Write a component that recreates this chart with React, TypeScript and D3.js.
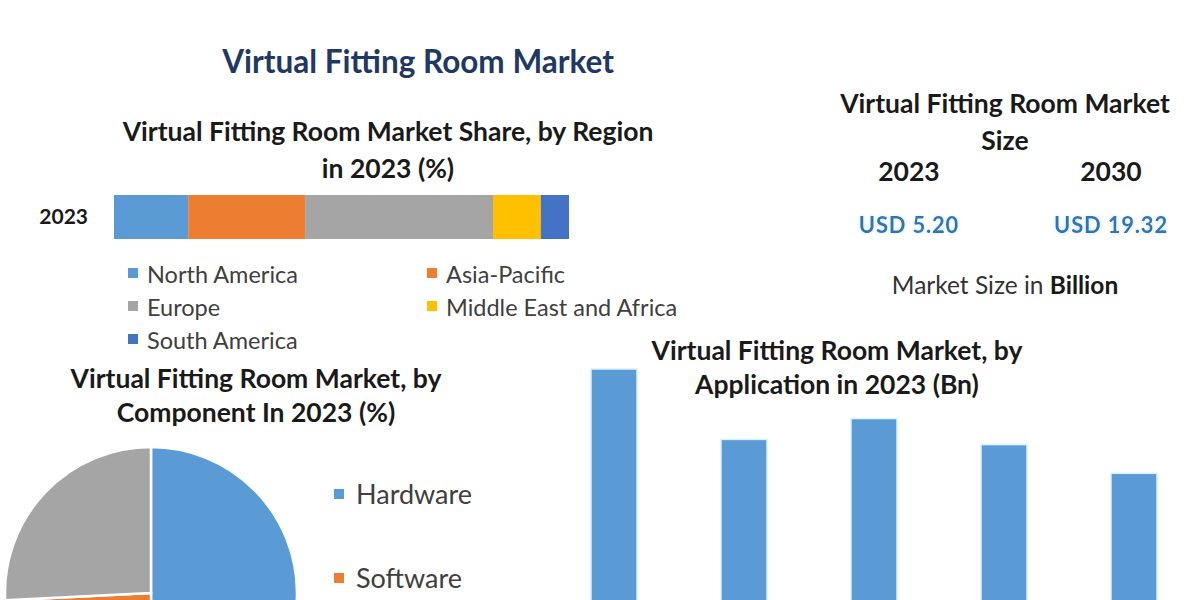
import { useEffect, useRef } from 'react'
import * as d3 from 'd3'

const REGIONS = ['North America', 'Asia-Pacific', 'Europe', 'Middle East and Africa', 'South America']
const REGION_SHARE = [16.3, 25.7, 41.3, 10.5, 6.2]
const REGION_COLORS = ['#5b9bd5', '#ed7d31', '#a5a5a5', '#ffc000', '#4472c4']

const COMPONENTS = ['Hardware', 'Software', 'Services']
const COMPONENT_SHARE = [50, 24.2, 25.8]
const COMPONENT_COLORS = ['#5b9bd5', '#ed7d31', '#a5a5a5']

// category labels sit below the visible crop in the reference
const APPLICATIONS = ['Apparel', 'Beauty & Cosmetics', 'Eyewear', 'Footwear', 'Jewelry & Watches']
const APPLICATION_VALUES = [1.27, 1.0, 1.08, 0.98, 0.87]

const SIZE_YEARS = ['2023', '2030']
const SIZE_VALUES = ['USD 5.20', 'USD 19.32']

const FONT = 'Lato, "Open Sans", sans-serif'

export default function App() {
  const svgRef = useRef<SVGSVGElement>(null)

  useEffect(() => {
    document.body.style.margin = '0'
    const svgEl = svgRef.current
    if (!svgEl) return
    const W = 1200
    const H = 600
    const svg = d3.select(svgEl).attr('viewBox', `0 0 ${W} ${H}`)
    svg.selectAll('*').remove()
    svg.append('rect').attr('width', W).attr('height', H).attr('fill', '#fff')

    const defs = svg.append('defs')
    const glow = defs.append('filter').attr('id', 'glow').attr('x', '-20%').attr('y', '-50%').attr('width', '140%').attr('height', '200%')
    glow.append('feGaussianBlur').attr('in', 'SourceAlpha').attr('stdDeviation', 2).attr('result', 'b')
    glow.append('feFlood').attr('flood-color', '#cde9ff')
    glow.append('feComposite').attr('in2', 'b').attr('operator', 'in')
    const gm = glow.append('feMerge')
    gm.append('feMergeNode')
    gm.append('feMergeNode').attr('in', 'SourceGraphic')

    const text = (x: number, y: number, s: string, size: number, weight = 'bold', fill = '#1a1a1a', anchor = 'middle') =>
      svg.append('text').attr('x', x).attr('y', y).attr('text-anchor', anchor)
        .attr('font-family', FONT).attr('font-size', size).attr('font-weight', weight)
        .attr('fill', fill).text(s)

    // main title
    text(418, 72.5, 'Virtual Fitting Room Market', 31.5, 'bold', '#1f3864')

    // ---- region stacked bar
    text(388, 140.5, 'Virtual Fitting Room Market Share, by Region', 26.5)
    text(388, 177.5, 'in 2023 (%)', 26.5)
    text(88, 223.5, '2023', 21, 'bold', '#1a1a1a', 'end')

    const xr = d3.scaleLinear().domain([0, 100]).range([114, 569])
    const stackStart = d3.cumsum([0, ...REGION_SHARE])
    svg.append('g').selectAll('rect').data(REGION_SHARE).join('rect')
      .attr('x', (_, i) => xr(stackStart[i]))
      .attr('width', (d) => xr(d) - xr(0))
      .attr('y', 195).attr('height', 44)
      .attr('fill', (_, i) => REGION_COLORS[i])

    const legendPos = [[128, 274], [427, 274], [128, 307], [427, 307], [128, 340]]
    REGIONS.forEach((r, i) => {
      const [lx, ly] = legendPos[i]
      svg.append('rect').attr('x', lx).attr('y', ly - 6).attr('width', 10).attr('height', 10).attr('fill', REGION_COLORS[i])
      text(lx + 19, ly + 8.5, r, 23.5, 'normal', '#404040', 'start')
    })

    // ---- component pie
    text(256, 387.5, 'Virtual Fitting Room Market, by', 26.5)
    text(256, 421.5, 'Component In 2023 (%)', 26.5)

    const pie = d3.pie<number>().sort(null)
    const arc = d3.arc<d3.PieArcDatum<number>>().innerRadius(0).outerRadius(146)
    svg.append('g').attr('transform', 'translate(151,593)')
      .selectAll('path').data(pie(COMPONENT_SHARE)).join('path')
      .attr('d', arc)
      .attr('fill', (_, i) => COMPONENT_COLORS[i])
      .attr('stroke', '#fff').attr('stroke-width', 2.5)

    // only the first two legend entries fall inside the picture
    COMPONENTS.slice(0, 2).forEach((c, i) => {
      const ly = 494 + i * 84
      svg.append('rect').attr('x', 334).attr('y', ly - 5).attr('width', 10).attr('height', 10).attr('fill', COMPONENT_COLORS[i])
      text(356, ly + 10, c, 27, 'normal', '#404040', 'start')
    })

    // ---- application bars
    text(837, 359.5, 'Virtual Fitting Room Market, by', 26.5)
    text(837, 393.5, 'Application in 2023 (Bn)', 26.5)

    const xb = d3.scaleBand().domain(APPLICATIONS).range([549, 1199]).paddingInner(0.646).paddingOuter(0.323)
    const yb = d3.scaleLinear().domain([0, 1.4]).range([700, 700 - 1.4 * 260.6])
    svg.append('g').selectAll('rect').data(APPLICATION_VALUES).join('rect')
      .attr('x', (_, i) => xb(APPLICATIONS[i])!)
      .attr('width', xb.bandwidth())
      .attr('y', (d) => yb(d))
      .attr('height', (d) => yb(0) - yb(d))
      .attr('fill', '#5b9bd5')
      .attr('stroke', '#dcf0fd').attr('stroke-width', 1.5)

    // ---- market size panel
    text(1005, 112.5, 'Virtual Fitting Room Market', 26.5)
    text(1005, 149.5, 'Size', 26.5)
    const sizeX = [909, 1111]
    SIZE_YEARS.forEach((yr, i) => {
      text(sizeX[i], 180.5, yr, 26.5)
      text(sizeX[i], 232.5, SIZE_VALUES[i], 22, 'bold', '#2e75b6')
        .attr('letter-spacing', 0.8).attr('filter', 'url(#glow)')
    })
    const ms = text(1005, 294, '', 24.5, 'normal', '#333')
    ms.append('tspan').text('Market Size in ')
    ms.append('tspan').attr('font-weight', 'bold').attr('fill', '#1a1a1a').text('Billion')
  }, [])

  return (
    <svg ref={svgRef} width={1200} height={600}
      style={{ position: 'absolute', left: 0, top: 0, display: 'block' }} />
  )
}
